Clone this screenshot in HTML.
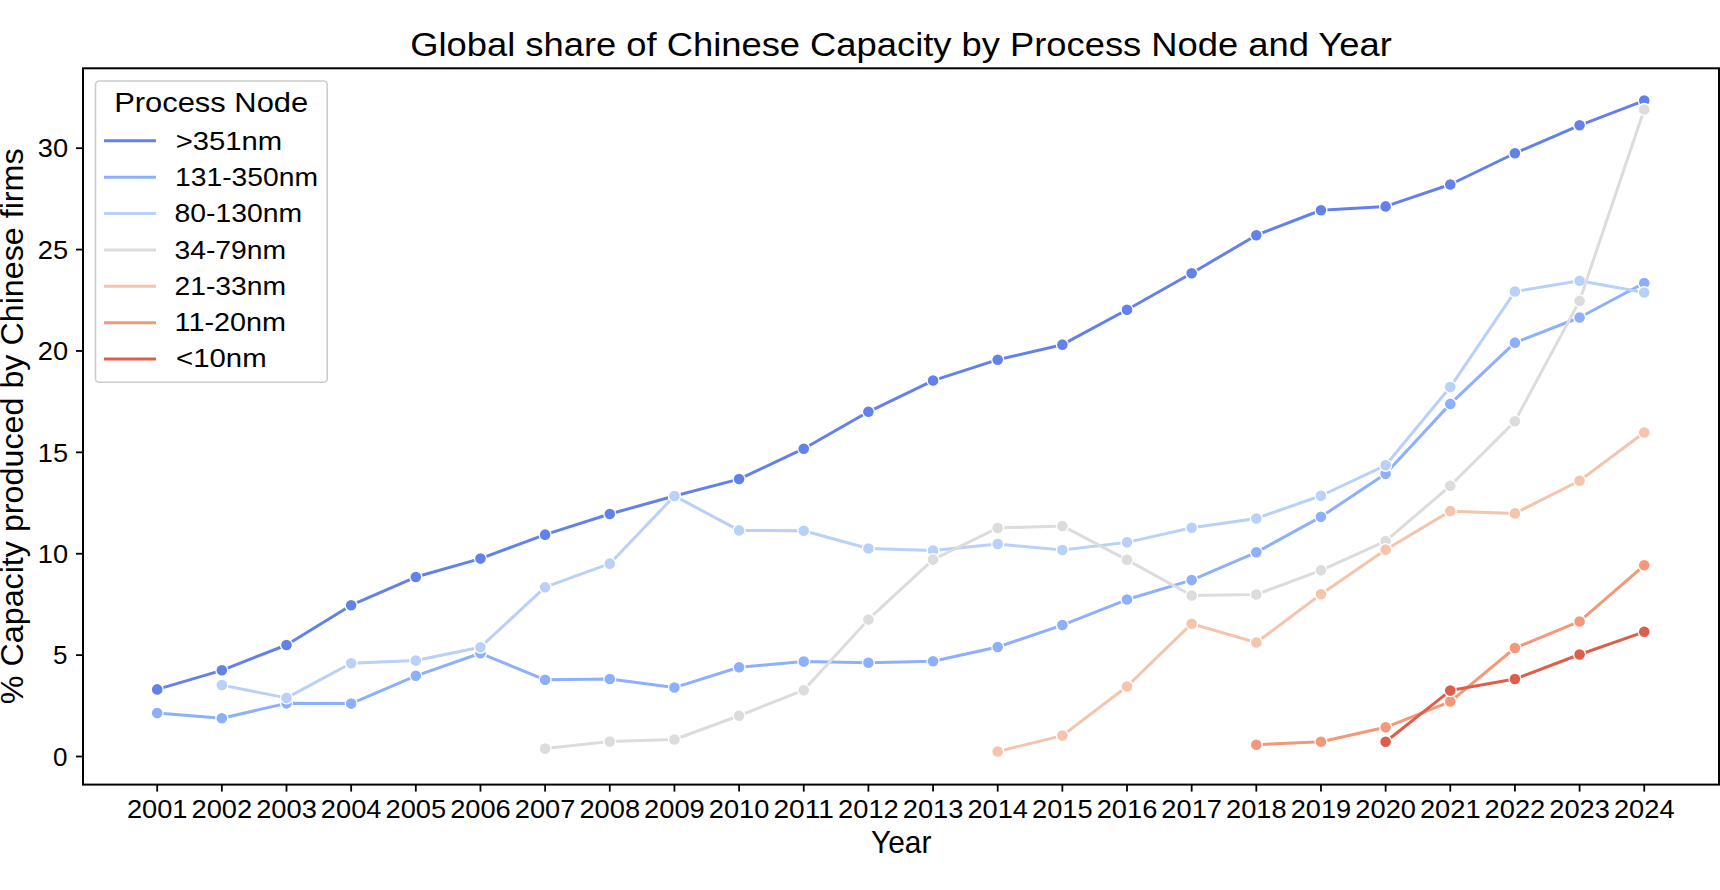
<!DOCTYPE html><html><head><meta charset="utf-8"><style>html,body{margin:0;padding:0;background:#fff;width:1720px;height:890px;overflow:hidden}svg{display:block}text{font-family:"Liberation Sans",sans-serif;fill:#000}</style></head><body>
<svg width="1720" height="890" viewBox="0 0 1720 890">
<rect x="0" y="0" width="1720" height="890" fill="#fff"/>
<polyline points="157.20,689.38 221.85,670.32 286.51,644.98 351.16,605.23 415.82,577.05 480.47,558.60 545.12,534.67 609.78,513.99 674.43,495.94 739.09,479.11 803.74,448.70 868.39,411.79 933.05,380.56 997.70,359.68 1062.36,344.67 1127.01,309.80 1191.66,273.30 1256.32,235.18 1320.97,210.24 1385.63,206.38 1450.28,184.49 1514.93,153.26 1579.59,125.28 1644.24,100.54" fill="none" stroke="#6282ea" stroke-width="3.00" stroke-linejoin="round"/>
<circle cx="157.20" cy="689.38" r="5.95" fill="#6282ea" stroke="#fff" stroke-width="1.30"/>
<circle cx="221.85" cy="670.32" r="5.95" fill="#6282ea" stroke="#fff" stroke-width="1.30"/>
<circle cx="286.51" cy="644.98" r="5.95" fill="#6282ea" stroke="#fff" stroke-width="1.30"/>
<circle cx="351.16" cy="605.23" r="5.95" fill="#6282ea" stroke="#fff" stroke-width="1.30"/>
<circle cx="415.82" cy="577.05" r="5.95" fill="#6282ea" stroke="#fff" stroke-width="1.30"/>
<circle cx="480.47" cy="558.60" r="5.95" fill="#6282ea" stroke="#fff" stroke-width="1.30"/>
<circle cx="545.12" cy="534.67" r="5.95" fill="#6282ea" stroke="#fff" stroke-width="1.30"/>
<circle cx="609.78" cy="513.99" r="5.95" fill="#6282ea" stroke="#fff" stroke-width="1.30"/>
<circle cx="674.43" cy="495.94" r="5.95" fill="#6282ea" stroke="#fff" stroke-width="1.30"/>
<circle cx="739.09" cy="479.11" r="5.95" fill="#6282ea" stroke="#fff" stroke-width="1.30"/>
<circle cx="803.74" cy="448.70" r="5.95" fill="#6282ea" stroke="#fff" stroke-width="1.30"/>
<circle cx="868.39" cy="411.79" r="5.95" fill="#6282ea" stroke="#fff" stroke-width="1.30"/>
<circle cx="933.05" cy="380.56" r="5.95" fill="#6282ea" stroke="#fff" stroke-width="1.30"/>
<circle cx="997.70" cy="359.68" r="5.95" fill="#6282ea" stroke="#fff" stroke-width="1.30"/>
<circle cx="1062.36" cy="344.67" r="5.95" fill="#6282ea" stroke="#fff" stroke-width="1.30"/>
<circle cx="1127.01" cy="309.80" r="5.95" fill="#6282ea" stroke="#fff" stroke-width="1.30"/>
<circle cx="1191.66" cy="273.30" r="5.95" fill="#6282ea" stroke="#fff" stroke-width="1.30"/>
<circle cx="1256.32" cy="235.18" r="5.95" fill="#6282ea" stroke="#fff" stroke-width="1.30"/>
<circle cx="1320.97" cy="210.24" r="5.95" fill="#6282ea" stroke="#fff" stroke-width="1.30"/>
<circle cx="1385.63" cy="206.38" r="5.95" fill="#6282ea" stroke="#fff" stroke-width="1.30"/>
<circle cx="1450.28" cy="184.49" r="5.95" fill="#6282ea" stroke="#fff" stroke-width="1.30"/>
<circle cx="1514.93" cy="153.26" r="5.95" fill="#6282ea" stroke="#fff" stroke-width="1.30"/>
<circle cx="1579.59" cy="125.28" r="5.95" fill="#6282ea" stroke="#fff" stroke-width="1.30"/>
<circle cx="1644.24" cy="100.54" r="5.95" fill="#6282ea" stroke="#fff" stroke-width="1.30"/>
<polyline points="157.20,713.11 221.85,718.18 286.51,703.37 351.16,703.58 415.82,675.80 480.47,653.29 545.12,679.85 609.78,679.04 674.43,687.56 739.09,667.28 803.74,661.60 868.39,662.82 933.05,661.20 997.70,647.00 1062.36,625.11 1127.01,599.56 1191.66,580.09 1256.32,552.31 1320.97,516.83 1385.63,473.84 1450.28,403.88 1514.93,342.65 1579.59,317.50 1644.24,283.03" fill="none" stroke="#8db0fe" stroke-width="3.00" stroke-linejoin="round"/>
<circle cx="157.20" cy="713.11" r="5.95" fill="#8db0fe" stroke="#fff" stroke-width="1.30"/>
<circle cx="221.85" cy="718.18" r="5.95" fill="#8db0fe" stroke="#fff" stroke-width="1.30"/>
<circle cx="286.51" cy="703.37" r="5.95" fill="#8db0fe" stroke="#fff" stroke-width="1.30"/>
<circle cx="351.16" cy="703.58" r="5.95" fill="#8db0fe" stroke="#fff" stroke-width="1.30"/>
<circle cx="415.82" cy="675.80" r="5.95" fill="#8db0fe" stroke="#fff" stroke-width="1.30"/>
<circle cx="480.47" cy="653.29" r="5.95" fill="#8db0fe" stroke="#fff" stroke-width="1.30"/>
<circle cx="545.12" cy="679.85" r="5.95" fill="#8db0fe" stroke="#fff" stroke-width="1.30"/>
<circle cx="609.78" cy="679.04" r="5.95" fill="#8db0fe" stroke="#fff" stroke-width="1.30"/>
<circle cx="674.43" cy="687.56" r="5.95" fill="#8db0fe" stroke="#fff" stroke-width="1.30"/>
<circle cx="739.09" cy="667.28" r="5.95" fill="#8db0fe" stroke="#fff" stroke-width="1.30"/>
<circle cx="803.74" cy="661.60" r="5.95" fill="#8db0fe" stroke="#fff" stroke-width="1.30"/>
<circle cx="868.39" cy="662.82" r="5.95" fill="#8db0fe" stroke="#fff" stroke-width="1.30"/>
<circle cx="933.05" cy="661.20" r="5.95" fill="#8db0fe" stroke="#fff" stroke-width="1.30"/>
<circle cx="997.70" cy="647.00" r="5.95" fill="#8db0fe" stroke="#fff" stroke-width="1.30"/>
<circle cx="1062.36" cy="625.11" r="5.95" fill="#8db0fe" stroke="#fff" stroke-width="1.30"/>
<circle cx="1127.01" cy="599.56" r="5.95" fill="#8db0fe" stroke="#fff" stroke-width="1.30"/>
<circle cx="1191.66" cy="580.09" r="5.95" fill="#8db0fe" stroke="#fff" stroke-width="1.30"/>
<circle cx="1256.32" cy="552.31" r="5.95" fill="#8db0fe" stroke="#fff" stroke-width="1.30"/>
<circle cx="1320.97" cy="516.83" r="5.95" fill="#8db0fe" stroke="#fff" stroke-width="1.30"/>
<circle cx="1385.63" cy="473.84" r="5.95" fill="#8db0fe" stroke="#fff" stroke-width="1.30"/>
<circle cx="1450.28" cy="403.88" r="5.95" fill="#8db0fe" stroke="#fff" stroke-width="1.30"/>
<circle cx="1514.93" cy="342.65" r="5.95" fill="#8db0fe" stroke="#fff" stroke-width="1.30"/>
<circle cx="1579.59" cy="317.50" r="5.95" fill="#8db0fe" stroke="#fff" stroke-width="1.30"/>
<circle cx="1644.24" cy="283.03" r="5.95" fill="#8db0fe" stroke="#fff" stroke-width="1.30"/>
<polyline points="221.85,685.12 286.51,697.90 351.16,663.23 415.82,660.59 480.47,647.21 545.12,587.19 609.78,563.67 674.43,495.94 739.09,530.41 803.74,530.82 868.39,548.46 933.05,550.49 997.70,544.00 1062.36,550.08 1127.01,542.37 1191.66,527.78 1256.32,518.45 1320.97,495.74 1385.63,465.32 1450.28,387.05 1514.93,291.55 1579.59,280.80 1644.24,292.56" fill="none" stroke="#b9d0f9" stroke-width="3.00" stroke-linejoin="round"/>
<circle cx="221.85" cy="685.12" r="5.95" fill="#b9d0f9" stroke="#fff" stroke-width="1.30"/>
<circle cx="286.51" cy="697.90" r="5.95" fill="#b9d0f9" stroke="#fff" stroke-width="1.30"/>
<circle cx="351.16" cy="663.23" r="5.95" fill="#b9d0f9" stroke="#fff" stroke-width="1.30"/>
<circle cx="415.82" cy="660.59" r="5.95" fill="#b9d0f9" stroke="#fff" stroke-width="1.30"/>
<circle cx="480.47" cy="647.21" r="5.95" fill="#b9d0f9" stroke="#fff" stroke-width="1.30"/>
<circle cx="545.12" cy="587.19" r="5.95" fill="#b9d0f9" stroke="#fff" stroke-width="1.30"/>
<circle cx="609.78" cy="563.67" r="5.95" fill="#b9d0f9" stroke="#fff" stroke-width="1.30"/>
<circle cx="674.43" cy="495.94" r="5.95" fill="#b9d0f9" stroke="#fff" stroke-width="1.30"/>
<circle cx="739.09" cy="530.41" r="5.95" fill="#b9d0f9" stroke="#fff" stroke-width="1.30"/>
<circle cx="803.74" cy="530.82" r="5.95" fill="#b9d0f9" stroke="#fff" stroke-width="1.30"/>
<circle cx="868.39" cy="548.46" r="5.95" fill="#b9d0f9" stroke="#fff" stroke-width="1.30"/>
<circle cx="933.05" cy="550.49" r="5.95" fill="#b9d0f9" stroke="#fff" stroke-width="1.30"/>
<circle cx="997.70" cy="544.00" r="5.95" fill="#b9d0f9" stroke="#fff" stroke-width="1.30"/>
<circle cx="1062.36" cy="550.08" r="5.95" fill="#b9d0f9" stroke="#fff" stroke-width="1.30"/>
<circle cx="1127.01" cy="542.37" r="5.95" fill="#b9d0f9" stroke="#fff" stroke-width="1.30"/>
<circle cx="1191.66" cy="527.78" r="5.95" fill="#b9d0f9" stroke="#fff" stroke-width="1.30"/>
<circle cx="1256.32" cy="518.45" r="5.95" fill="#b9d0f9" stroke="#fff" stroke-width="1.30"/>
<circle cx="1320.97" cy="495.74" r="5.95" fill="#b9d0f9" stroke="#fff" stroke-width="1.30"/>
<circle cx="1385.63" cy="465.32" r="5.95" fill="#b9d0f9" stroke="#fff" stroke-width="1.30"/>
<circle cx="1450.28" cy="387.05" r="5.95" fill="#b9d0f9" stroke="#fff" stroke-width="1.30"/>
<circle cx="1514.93" cy="291.55" r="5.95" fill="#b9d0f9" stroke="#fff" stroke-width="1.30"/>
<circle cx="1579.59" cy="280.80" r="5.95" fill="#b9d0f9" stroke="#fff" stroke-width="1.30"/>
<circle cx="1644.24" cy="292.56" r="5.95" fill="#b9d0f9" stroke="#fff" stroke-width="1.30"/>
<polyline points="545.12,748.59 609.78,741.50 674.43,739.47 739.09,715.74 803.74,690.19 868.39,619.43 933.05,559.61 997.70,527.98 1062.36,525.95 1127.01,559.81 1191.66,595.50 1256.32,594.49 1320.97,570.36 1385.63,541.16 1450.28,485.80 1514.93,421.32 1579.59,300.88 1644.24,109.46" fill="none" stroke="#dddcdc" stroke-width="3.00" stroke-linejoin="round"/>
<circle cx="545.12" cy="748.59" r="5.95" fill="#dddcdc" stroke="#fff" stroke-width="1.30"/>
<circle cx="609.78" cy="741.50" r="5.95" fill="#dddcdc" stroke="#fff" stroke-width="1.30"/>
<circle cx="674.43" cy="739.47" r="5.95" fill="#dddcdc" stroke="#fff" stroke-width="1.30"/>
<circle cx="739.09" cy="715.74" r="5.95" fill="#dddcdc" stroke="#fff" stroke-width="1.30"/>
<circle cx="803.74" cy="690.19" r="5.95" fill="#dddcdc" stroke="#fff" stroke-width="1.30"/>
<circle cx="868.39" cy="619.43" r="5.95" fill="#dddcdc" stroke="#fff" stroke-width="1.30"/>
<circle cx="933.05" cy="559.61" r="5.95" fill="#dddcdc" stroke="#fff" stroke-width="1.30"/>
<circle cx="997.70" cy="527.98" r="5.95" fill="#dddcdc" stroke="#fff" stroke-width="1.30"/>
<circle cx="1062.36" cy="525.95" r="5.95" fill="#dddcdc" stroke="#fff" stroke-width="1.30"/>
<circle cx="1127.01" cy="559.81" r="5.95" fill="#dddcdc" stroke="#fff" stroke-width="1.30"/>
<circle cx="1191.66" cy="595.50" r="5.95" fill="#dddcdc" stroke="#fff" stroke-width="1.30"/>
<circle cx="1256.32" cy="594.49" r="5.95" fill="#dddcdc" stroke="#fff" stroke-width="1.30"/>
<circle cx="1320.97" cy="570.36" r="5.95" fill="#dddcdc" stroke="#fff" stroke-width="1.30"/>
<circle cx="1385.63" cy="541.16" r="5.95" fill="#dddcdc" stroke="#fff" stroke-width="1.30"/>
<circle cx="1450.28" cy="485.80" r="5.95" fill="#dddcdc" stroke="#fff" stroke-width="1.30"/>
<circle cx="1514.93" cy="421.32" r="5.95" fill="#dddcdc" stroke="#fff" stroke-width="1.30"/>
<circle cx="1579.59" cy="300.88" r="5.95" fill="#dddcdc" stroke="#fff" stroke-width="1.30"/>
<circle cx="1644.24" cy="109.46" r="5.95" fill="#dddcdc" stroke="#fff" stroke-width="1.30"/>
<polyline points="997.70,751.43 1062.36,735.61 1127.01,686.54 1191.66,623.69 1256.32,642.54 1320.97,594.28 1385.63,549.67 1450.28,511.15 1514.93,513.38 1579.59,480.73 1644.24,432.47" fill="none" stroke="#f5c4ac" stroke-width="3.00" stroke-linejoin="round"/>
<circle cx="997.70" cy="751.43" r="5.95" fill="#f5c4ac" stroke="#fff" stroke-width="1.30"/>
<circle cx="1062.36" cy="735.61" r="5.95" fill="#f5c4ac" stroke="#fff" stroke-width="1.30"/>
<circle cx="1127.01" cy="686.54" r="5.95" fill="#f5c4ac" stroke="#fff" stroke-width="1.30"/>
<circle cx="1191.66" cy="623.69" r="5.95" fill="#f5c4ac" stroke="#fff" stroke-width="1.30"/>
<circle cx="1256.32" cy="642.54" r="5.95" fill="#f5c4ac" stroke="#fff" stroke-width="1.30"/>
<circle cx="1320.97" cy="594.28" r="5.95" fill="#f5c4ac" stroke="#fff" stroke-width="1.30"/>
<circle cx="1385.63" cy="549.67" r="5.95" fill="#f5c4ac" stroke="#fff" stroke-width="1.30"/>
<circle cx="1450.28" cy="511.15" r="5.95" fill="#f5c4ac" stroke="#fff" stroke-width="1.30"/>
<circle cx="1514.93" cy="513.38" r="5.95" fill="#f5c4ac" stroke="#fff" stroke-width="1.30"/>
<circle cx="1579.59" cy="480.73" r="5.95" fill="#f5c4ac" stroke="#fff" stroke-width="1.30"/>
<circle cx="1644.24" cy="432.47" r="5.95" fill="#f5c4ac" stroke="#fff" stroke-width="1.30"/>
<polyline points="1256.32,744.74 1320.97,741.70 1385.63,727.30 1450.28,701.55 1514.93,648.02 1579.59,621.46 1644.24,565.29" fill="none" stroke="#f4987a" stroke-width="3.00" stroke-linejoin="round"/>
<circle cx="1256.32" cy="744.74" r="5.95" fill="#f4987a" stroke="#fff" stroke-width="1.30"/>
<circle cx="1320.97" cy="741.70" r="5.95" fill="#f4987a" stroke="#fff" stroke-width="1.30"/>
<circle cx="1385.63" cy="727.30" r="5.95" fill="#f4987a" stroke="#fff" stroke-width="1.30"/>
<circle cx="1450.28" cy="701.55" r="5.95" fill="#f4987a" stroke="#fff" stroke-width="1.30"/>
<circle cx="1514.93" cy="648.02" r="5.95" fill="#f4987a" stroke="#fff" stroke-width="1.30"/>
<circle cx="1579.59" cy="621.46" r="5.95" fill="#f4987a" stroke="#fff" stroke-width="1.30"/>
<circle cx="1644.24" cy="565.29" r="5.95" fill="#f4987a" stroke="#fff" stroke-width="1.30"/>
<polyline points="1385.63,741.70 1450.28,690.60 1514.93,679.04 1579.59,654.51 1644.24,631.80" fill="none" stroke="#dd5f4b" stroke-width="3.00" stroke-linejoin="round"/>
<circle cx="1385.63" cy="741.70" r="5.95" fill="#dd5f4b" stroke="#fff" stroke-width="1.30"/>
<circle cx="1450.28" cy="690.60" r="5.95" fill="#dd5f4b" stroke="#fff" stroke-width="1.30"/>
<circle cx="1514.93" cy="679.04" r="5.95" fill="#dd5f4b" stroke="#fff" stroke-width="1.30"/>
<circle cx="1579.59" cy="654.51" r="5.95" fill="#dd5f4b" stroke="#fff" stroke-width="1.30"/>
<circle cx="1644.24" cy="631.80" r="5.95" fill="#dd5f4b" stroke="#fff" stroke-width="1.30"/>
<rect x="83.00" y="68.30" width="1636.00" height="716.30" fill="none" stroke="#000" stroke-width="2"/>
<line x1="157.20" y1="784.60" x2="157.20" y2="791.60" stroke="#000" stroke-width="1.8"/>
<text x="157.20" y="817.90" font-size="26.00" textLength="60.60" lengthAdjust="spacingAndGlyphs" text-anchor="middle">2001</text>
<line x1="221.85" y1="784.60" x2="221.85" y2="791.60" stroke="#000" stroke-width="1.8"/>
<text x="221.85" y="817.90" font-size="26.00" textLength="60.60" lengthAdjust="spacingAndGlyphs" text-anchor="middle">2002</text>
<line x1="286.51" y1="784.60" x2="286.51" y2="791.60" stroke="#000" stroke-width="1.8"/>
<text x="286.51" y="817.90" font-size="26.00" textLength="60.60" lengthAdjust="spacingAndGlyphs" text-anchor="middle">2003</text>
<line x1="351.16" y1="784.60" x2="351.16" y2="791.60" stroke="#000" stroke-width="1.8"/>
<text x="351.16" y="817.90" font-size="26.00" textLength="60.60" lengthAdjust="spacingAndGlyphs" text-anchor="middle">2004</text>
<line x1="415.82" y1="784.60" x2="415.82" y2="791.60" stroke="#000" stroke-width="1.8"/>
<text x="415.82" y="817.90" font-size="26.00" textLength="60.60" lengthAdjust="spacingAndGlyphs" text-anchor="middle">2005</text>
<line x1="480.47" y1="784.60" x2="480.47" y2="791.60" stroke="#000" stroke-width="1.8"/>
<text x="480.47" y="817.90" font-size="26.00" textLength="60.60" lengthAdjust="spacingAndGlyphs" text-anchor="middle">2006</text>
<line x1="545.12" y1="784.60" x2="545.12" y2="791.60" stroke="#000" stroke-width="1.8"/>
<text x="545.12" y="817.90" font-size="26.00" textLength="60.60" lengthAdjust="spacingAndGlyphs" text-anchor="middle">2007</text>
<line x1="609.78" y1="784.60" x2="609.78" y2="791.60" stroke="#000" stroke-width="1.8"/>
<text x="609.78" y="817.90" font-size="26.00" textLength="60.60" lengthAdjust="spacingAndGlyphs" text-anchor="middle">2008</text>
<line x1="674.43" y1="784.60" x2="674.43" y2="791.60" stroke="#000" stroke-width="1.8"/>
<text x="674.43" y="817.90" font-size="26.00" textLength="60.60" lengthAdjust="spacingAndGlyphs" text-anchor="middle">2009</text>
<line x1="739.09" y1="784.60" x2="739.09" y2="791.60" stroke="#000" stroke-width="1.8"/>
<text x="739.09" y="817.90" font-size="26.00" textLength="60.60" lengthAdjust="spacingAndGlyphs" text-anchor="middle">2010</text>
<line x1="803.74" y1="784.60" x2="803.74" y2="791.60" stroke="#000" stroke-width="1.8"/>
<text x="803.74" y="817.90" font-size="26.00" textLength="60.60" lengthAdjust="spacingAndGlyphs" text-anchor="middle">2011</text>
<line x1="868.39" y1="784.60" x2="868.39" y2="791.60" stroke="#000" stroke-width="1.8"/>
<text x="868.39" y="817.90" font-size="26.00" textLength="60.60" lengthAdjust="spacingAndGlyphs" text-anchor="middle">2012</text>
<line x1="933.05" y1="784.60" x2="933.05" y2="791.60" stroke="#000" stroke-width="1.8"/>
<text x="933.05" y="817.90" font-size="26.00" textLength="60.60" lengthAdjust="spacingAndGlyphs" text-anchor="middle">2013</text>
<line x1="997.70" y1="784.60" x2="997.70" y2="791.60" stroke="#000" stroke-width="1.8"/>
<text x="997.70" y="817.90" font-size="26.00" textLength="60.60" lengthAdjust="spacingAndGlyphs" text-anchor="middle">2014</text>
<line x1="1062.36" y1="784.60" x2="1062.36" y2="791.60" stroke="#000" stroke-width="1.8"/>
<text x="1062.36" y="817.90" font-size="26.00" textLength="60.60" lengthAdjust="spacingAndGlyphs" text-anchor="middle">2015</text>
<line x1="1127.01" y1="784.60" x2="1127.01" y2="791.60" stroke="#000" stroke-width="1.8"/>
<text x="1127.01" y="817.90" font-size="26.00" textLength="60.60" lengthAdjust="spacingAndGlyphs" text-anchor="middle">2016</text>
<line x1="1191.66" y1="784.60" x2="1191.66" y2="791.60" stroke="#000" stroke-width="1.8"/>
<text x="1191.66" y="817.90" font-size="26.00" textLength="60.60" lengthAdjust="spacingAndGlyphs" text-anchor="middle">2017</text>
<line x1="1256.32" y1="784.60" x2="1256.32" y2="791.60" stroke="#000" stroke-width="1.8"/>
<text x="1256.32" y="817.90" font-size="26.00" textLength="60.60" lengthAdjust="spacingAndGlyphs" text-anchor="middle">2018</text>
<line x1="1320.97" y1="784.60" x2="1320.97" y2="791.60" stroke="#000" stroke-width="1.8"/>
<text x="1320.97" y="817.90" font-size="26.00" textLength="60.60" lengthAdjust="spacingAndGlyphs" text-anchor="middle">2019</text>
<line x1="1385.63" y1="784.60" x2="1385.63" y2="791.60" stroke="#000" stroke-width="1.8"/>
<text x="1385.63" y="817.90" font-size="26.00" textLength="60.60" lengthAdjust="spacingAndGlyphs" text-anchor="middle">2020</text>
<line x1="1450.28" y1="784.60" x2="1450.28" y2="791.60" stroke="#000" stroke-width="1.8"/>
<text x="1450.28" y="817.90" font-size="26.00" textLength="60.60" lengthAdjust="spacingAndGlyphs" text-anchor="middle">2021</text>
<line x1="1514.93" y1="784.60" x2="1514.93" y2="791.60" stroke="#000" stroke-width="1.8"/>
<text x="1514.93" y="817.90" font-size="26.00" textLength="60.60" lengthAdjust="spacingAndGlyphs" text-anchor="middle">2022</text>
<line x1="1579.59" y1="784.60" x2="1579.59" y2="791.60" stroke="#000" stroke-width="1.8"/>
<text x="1579.59" y="817.90" font-size="26.00" textLength="60.60" lengthAdjust="spacingAndGlyphs" text-anchor="middle">2023</text>
<line x1="1644.24" y1="784.60" x2="1644.24" y2="791.60" stroke="#000" stroke-width="1.8"/>
<text x="1644.24" y="817.90" font-size="26.00" textLength="60.60" lengthAdjust="spacingAndGlyphs" text-anchor="middle">2024</text>
<line x1="76.00" y1="756.50" x2="83.00" y2="756.50" stroke="#000" stroke-width="1.8"/>
<text x="67.50" y="765.80" font-size="26.00" text-anchor="end">0</text>
<line x1="76.00" y1="655.12" x2="83.00" y2="655.12" stroke="#000" stroke-width="1.8"/>
<text x="67.50" y="664.41" font-size="26.00" text-anchor="end">5</text>
<line x1="76.00" y1="553.73" x2="83.00" y2="553.73" stroke="#000" stroke-width="1.8"/>
<text x="68.10" y="563.03" font-size="26.00" text-anchor="end" textLength="30.3" lengthAdjust="spacingAndGlyphs">10</text>
<line x1="76.00" y1="452.34" x2="83.00" y2="452.34" stroke="#000" stroke-width="1.8"/>
<text x="68.10" y="461.64" font-size="26.00" text-anchor="end" textLength="30.3" lengthAdjust="spacingAndGlyphs">15</text>
<line x1="76.00" y1="350.96" x2="83.00" y2="350.96" stroke="#000" stroke-width="1.8"/>
<text x="68.10" y="360.26" font-size="26.00" text-anchor="end" textLength="30.3" lengthAdjust="spacingAndGlyphs">20</text>
<line x1="76.00" y1="249.57" x2="83.00" y2="249.57" stroke="#000" stroke-width="1.8"/>
<text x="68.10" y="258.88" font-size="26.00" text-anchor="end" textLength="30.3" lengthAdjust="spacingAndGlyphs">25</text>
<line x1="76.00" y1="148.19" x2="83.00" y2="148.19" stroke="#000" stroke-width="1.8"/>
<text x="68.10" y="157.49" font-size="26.00" text-anchor="end" textLength="30.3" lengthAdjust="spacingAndGlyphs">30</text>
<text x="901.00" y="56.30" font-size="33.50" textLength="981.50" lengthAdjust="spacingAndGlyphs" text-anchor="middle">Global share of Chinese Capacity by Process Node and Year</text>
<text x="901.20" y="852.70" font-size="30.50" textLength="60.30" lengthAdjust="spacingAndGlyphs" text-anchor="middle">Year</text>
<text transform="translate(22.80,426.30) rotate(-90)" x="0" y="0" font-size="30.50" textLength="555.80" lengthAdjust="spacingAndGlyphs" text-anchor="middle">% Capacity produced by Chinese firms</text>
<rect x="95.5" y="81" width="231.7" height="301.3" rx="3.5" ry="3.5" fill="#fff" fill-opacity="0.8" stroke="#cccccc" stroke-width="1.6"/>
<text x="211.20" y="112.30" font-size="28.00" textLength="194.00" lengthAdjust="spacingAndGlyphs" text-anchor="middle">Process Node</text>
<line x1="104" y1="140.80" x2="156" y2="140.80" stroke="#6282ea" stroke-width="3"/>
<text x="175.70" y="149.60" font-size="26.00" textLength="106.40" lengthAdjust="spacingAndGlyphs">&gt;351nm</text>
<line x1="104" y1="177.17" x2="156" y2="177.17" stroke="#8db0fe" stroke-width="3"/>
<text x="175.00" y="185.90" font-size="26.00" textLength="143.00" lengthAdjust="spacingAndGlyphs">131-350nm</text>
<line x1="104" y1="213.54" x2="156" y2="213.54" stroke="#b9d0f9" stroke-width="3"/>
<text x="174.50" y="222.20" font-size="26.00" textLength="127.60" lengthAdjust="spacingAndGlyphs">80-130nm</text>
<line x1="104" y1="249.91" x2="156" y2="249.91" stroke="#dddcdc" stroke-width="3"/>
<text x="174.50" y="258.50" font-size="26.00" textLength="111.60" lengthAdjust="spacingAndGlyphs">34-79nm</text>
<line x1="104" y1="286.28" x2="156" y2="286.28" stroke="#f5c4ac" stroke-width="3"/>
<text x="174.50" y="294.80" font-size="26.00" textLength="111.60" lengthAdjust="spacingAndGlyphs">21-33nm</text>
<line x1="104" y1="322.65" x2="156" y2="322.65" stroke="#f4987a" stroke-width="3"/>
<text x="174.60" y="331.10" font-size="26.00" textLength="111.40" lengthAdjust="spacingAndGlyphs">11-20nm</text>
<line x1="104" y1="359.02" x2="156" y2="359.02" stroke="#dd5f4b" stroke-width="3"/>
<text x="176.00" y="367.40" font-size="26.00" textLength="90.60" lengthAdjust="spacingAndGlyphs">&lt;10nm</text>
</svg></body></html>
